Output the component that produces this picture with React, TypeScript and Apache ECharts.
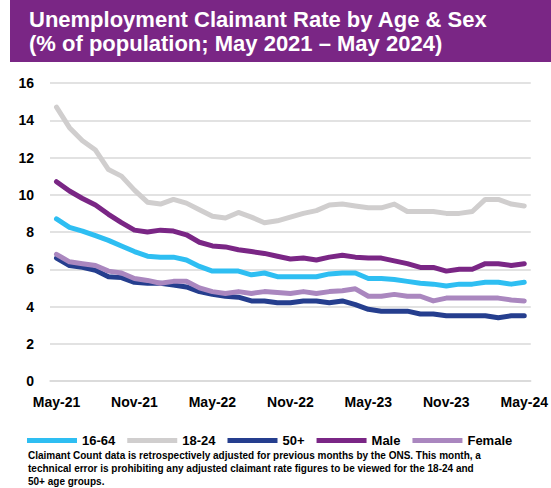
import React, { useEffect, useRef } from "react";
import * as echarts from "echarts";

const months = [
  "May-21","Jun-21","Jul-21","Aug-21","Sep-21","Oct-21","Nov-21","Dec-21","Jan-22","Feb-22","Mar-22","Apr-22",
  "May-22","Jun-22","Jul-22","Aug-22","Sep-22","Oct-22","Nov-22","Dec-22","Jan-23","Feb-23","Mar-23","Apr-23",
  "May-23","Jun-23","Jul-23","Aug-23","Sep-23","Oct-23","Nov-23","Dec-23","Jan-24","Feb-24","Mar-24","Apr-24","May-24",
];

const age1664 = [8.7,8.25,8.05,7.8,7.55,7.25,6.95,6.7,6.65,6.65,6.5,6.15,5.9,5.9,5.9,5.7,5.8,5.6,5.6,5.6,5.6,5.75,5.8,5.8,5.5,5.5,5.45,5.35,5.25,5.2,5.1,5.2,5.2,5.3,5.3,5.2,5.3];
const age1824 = [14.7,13.6,12.9,12.4,11.35,11.0,10.25,9.6,9.5,9.75,9.55,9.2,8.85,8.75,9.05,8.8,8.5,8.6,8.8,9.0,9.15,9.45,9.5,9.4,9.3,9.3,9.5,9.1,9.1,9.1,9.0,9.0,9.1,9.75,9.75,9.5,9.4];
const age50 = [6.6,6.2,6.1,5.95,5.6,5.55,5.3,5.25,5.25,5.15,5.05,4.8,4.65,4.55,4.5,4.3,4.3,4.2,4.2,4.3,4.3,4.2,4.3,4.1,3.85,3.75,3.75,3.75,3.6,3.6,3.5,3.5,3.5,3.5,3.4,3.5,3.5];
const male = [10.7,10.2,9.8,9.45,8.95,8.5,8.1,8.0,8.1,8.05,7.85,7.45,7.25,7.2,7.05,6.95,6.85,6.7,6.55,6.6,6.5,6.65,6.75,6.65,6.6,6.6,6.45,6.3,6.1,6.1,5.9,6.0,6.0,6.3,6.3,6.2,6.3];
const female = [6.8,6.4,6.3,6.2,5.9,5.8,5.5,5.4,5.25,5.35,5.35,5.0,4.8,4.7,4.8,4.7,4.8,4.75,4.7,4.8,4.7,4.8,4.85,4.95,4.55,4.55,4.65,4.55,4.55,4.3,4.45,4.45,4.45,4.45,4.45,4.35,4.3];

const seriesNames = ["16-64", "18-24", "50+", "Male", "Female"];
const seriesColors = ["#2EBEF2", "#D0CECE", "#253E8E", "#7A2685", "#AA87BF"];
const seriesData = [age1664, age1824, age50, male, female];

const titleLines = [
  "Unemployment Claimant Rate by Age & Sex",
  "(% of population; May 2021 \u2013 May 2024)",
];
const footnoteLines = [
  "Claimant Count data is retrospectively adjusted for previous months by the ONS. This month, a",
  "technical error is prohibiting any adjusted claimant rate figures to be viewed for the 18-24 and",
  "50+ age groups.",
];

const FONT = "'Liberation Sans', Arial, sans-serif";

export default function App() {
  const ref = useRef<HTMLDivElement>(null);
  useEffect(() => {
    if (!ref.current) return;
    const chart = echarts.init(ref.current, undefined, { renderer: "svg" });
    chart.setOption({
      animation: false,
      backgroundColor: "#ffffff",
      textStyle: { fontFamily: FONT },
      grid: { left: 50, right: 20, top: 83, bottom: 107, containLabel: false },
      legend: {
        data: seriesNames,
        left: 22,
        top: 429,
        itemWidth: 50,
        itemHeight: 5,
        itemGap: 12,
        icon: "rect",
        textStyle: { fontFamily: FONT, fontSize: 13, fontWeight: "bold", color: "#000" },
      },
      xAxis: {
        type: "category",
        data: months,
        boundaryGap: true,
        axisLine: { lineStyle: { color: "#D9D9D9", width: 1.5 } },
        axisTick: { interval: 5, length: 5, lineStyle: { color: "#D9D9D9", width: 1.5 } },
        axisLabel: { interval: 5, fontFamily: FONT, fontSize: 14, fontWeight: "bold", color: "#000", margin: 14 },
      },
      yAxis: {
        type: "value",
        min: 0,
        max: 16,
        interval: 2,
        axisLine: { show: false },
        axisTick: { show: false },
        splitLine: { lineStyle: { color: "#D9D9D9", width: 1.5 } },
        axisLabel: { fontFamily: FONT, fontSize: 14, fontWeight: "bold", color: "#000", margin: 16 },
      },
      series: seriesNames.map((name, i) => ({
        name,
        type: "line",
        data: seriesData[i],
        symbol: "none",
        color: seriesColors[i],
        lineStyle: { width: 5, color: seriesColors[i], join: "round", cap: "round" },
        z: i === 1 ? 5 : 10,
      })),
      graphic: [
        { type: "rect", shape: { x: 10, y: 0, width: 541, height: 62 }, style: { fill: "#7A2685" }, z: 0 },
        {
          type: "text",
          left: 29,
          top: 7,
          style: { text: titleLines.join("\n"), fill: "#fff", font: `bold 22px ${FONT}`, lineHeight: 24 },
        },
        {
          type: "text",
          left: 28,
          top: 449,
          style: { text: footnoteLines.join("\n"), fill: "#000", font: `bold 10px ${FONT}`, lineHeight: 13 },
        },
      ],
    });
    return () => chart.dispose();
  }, []);
  return <div ref={ref} style={{ position: "fixed", left: 0, top: 0, width: 551, height: 488 }} />;
}
